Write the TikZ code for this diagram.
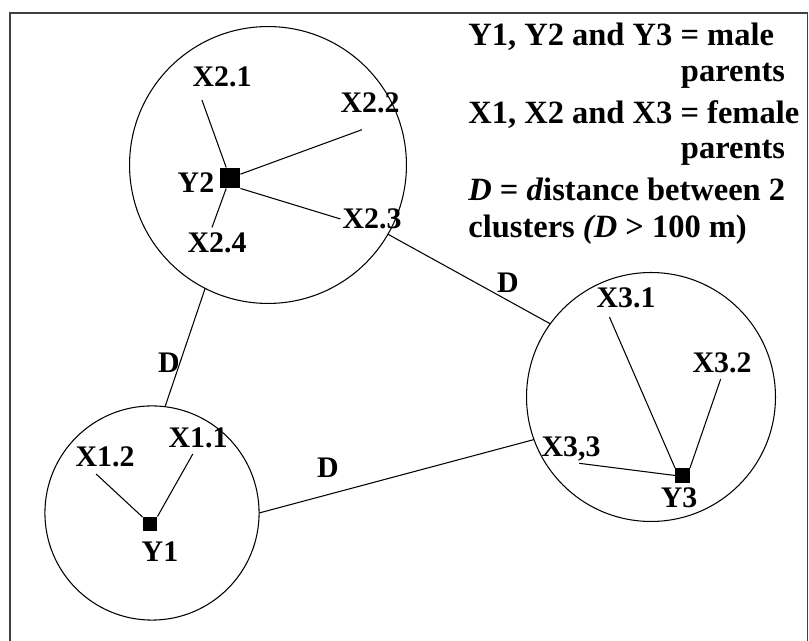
\documentclass[tikz,border=0pt]{standalone}
\usepackage{fontspec}
\setmainfont{Liberation Serif}
\tikzset{
  clus/.style={circle,draw,line width=.6pt,inner sep=0pt,outer sep=0pt,
               minimum size=#1},
  male/.style={rectangle,fill=black,inner sep=0pt,outer sep=0pt,minimum size=#1},
  tlab/.style={font=\fontsize{17}{19}\selectfont\bfseries,inner sep=1pt},
  dlink/.style={draw,line width=.6pt},
}

\begin{document}
\begin{tikzpicture}[x=0.02cm,y=-0.02cm]
  \useasboundingbox (0,0) rectangle (809,641);
  \draw[line width=1.1pt,black!75] (10,641) -- (10,13) -- (807.5,13) -- (807.5,641);

  % clusters
  \node[clus=157.6pt] (c2) at (268,165) {};
  \node[clus=121.9pt] (c1) at (152,513) {};
  \node[clus=141.7pt] (c3) at (651,397) {};

  % male parents
  \node[male=11.9pt] (y2) at (230,178) {};
  \node[male=8.5pt] (y1) at (150,524) {};
  \node[male=8.5pt] (y3) at (682.5,475.5) {};
  \node[tlab] (ly2) at (196,183) {Y2};
  \node[tlab] (ly1) at (160,552) {Y1};
  \node[tlab] (ly3) at (679,498) {Y3};

  % female parents
  \node[tlab] (x21) at (222,77) {X2.1};
  \node[tlab] (x22) at (370,103) {X2.2};
  \node[tlab] (x23) at (372,219) {X2.3};
  \node[tlab] (x24) at (217,243) {X2.4};
  \node[tlab] (x11) at (198,438) {X1.1};
  \node[tlab] (x12) at (105,457) {X1.2};
  \node[tlab] (x31) at (626,298) {X3.1};
  \node[tlab] (x32) at (722,363) {X3.2};
  \node[tlab] (x33) at (571,449) {X3,3};

  \draw[dlink,shorten >=6.6pt] (y2) -- (x21.207);
  \draw[dlink,shorten >=24pt] (y2) -- (x22.south east);
  \draw[dlink] (y2.south east) -- (x23.west);
  \draw[dlink,shorten >=2pt] (y2) -- (x24.117);
  \draw[dlink,shorten >=4pt] (y1) -- (x12.221);
  \draw[dlink,shorten >=2.5pt] (y1.north east) -- (x11.256);
  \draw[dlink,shorten >=4.3pt] (y3.north west) -- (x31.212);
  \draw[dlink,shorten >=2.3pt] (y3.north east) -- (x32.south);
  \draw[dlink] (y3.west) -- (x33.300);

  % distances
  \draw[dlink] (c2.243) -- (c1.83);
  \draw[dlink] (c1.0) -- (c3.200);
  \draw[dlink] (c2.330) -- (c3.144);
  \node[tlab] (d1) at (169,363) {D};
  \node[tlab] (d2) at (328,468) {D};
  \node[tlab] (d3) at (508,283) {D};

  % key
  \node[anchor=north west,align=left,inner sep=0pt,
        font=\fontsize{18.5}{20}\selectfont\bfseries] (key) at (468,23)
    {Y1, Y2 and Y3 = male\\ \hspace*{121pt}parents\\[4pt]
     X1, X2 and X3 = female\\ \hspace*{121pt}parents\\[4pt]
     \textit{D} = \textit{d}istance between 2\\[1pt]
     clusters \textit{(D} > 100 m)};
\end{tikzpicture}
\end{document}
